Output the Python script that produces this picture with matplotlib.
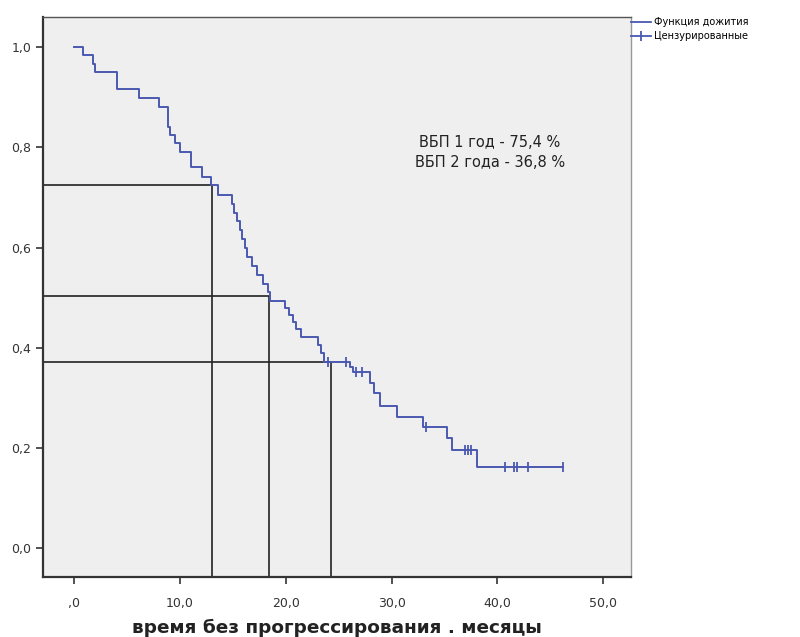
#!/usr/bin/env python3
"""
Kaplan-Meier curve: progression-free survival (SPSS style).
Usage: python3 plot.py
"""

import matplotlib
matplotlib.use("Agg")
import matplotlib.pyplot as plt
from matplotlib.lines import Line2D

# survival step function (time in months, survival after the event)
times = [0, 0.8, 1.8, 2.0, 4.0, 6.1, 8.0, 8.9, 9.1, 9.5, 10.0, 11.0, 12.1,
         12.9, 13.6, 14.9, 15.1, 15.4, 15.7, 15.9, 16.1, 16.3, 16.8, 17.3,
         17.8, 18.3, 18.5, 19.9, 20.3, 20.7, 21.0, 21.4, 23.0, 23.3, 23.6,
         26.1, 26.4, 28.0, 28.3, 28.9, 30.5, 33.0, 35.2, 35.7, 38.1, 46.2]
surv = [1.0, 0.985, 0.967, 0.951, 0.916, 0.898, 0.880, 0.841, 0.824, 0.808,
        0.791, 0.761, 0.741, 0.725, 0.705, 0.688, 0.670, 0.653, 0.635, 0.618,
        0.600, 0.581, 0.563, 0.546, 0.528, 0.511, 0.494, 0.480, 0.466, 0.452,
        0.437, 0.422, 0.405, 0.389, 0.372, 0.362, 0.352, 0.329, 0.309, 0.283,
        0.262, 0.241, 0.220, 0.196, 0.162, 0.162]

# censored observations
cens_t = [24.0, 25.7, 26.6, 27.2, 33.3, 36.9, 37.2, 37.5, 40.7, 41.6, 41.9,
          42.9, 46.2]
cens_s = [0.372, 0.372, 0.352, 0.352, 0.241, 0.196, 0.196, 0.196, 0.162,
          0.162, 0.162, 0.162, 0.162]

# reference lines (time, survival)
ref_t = [13.0, 18.4, 24.3]
ref_s = [0.725, 0.503, 0.371]

xticks = [0, 10, 20, 30, 40, 50]
xlabels = [",0", "10,0", "20,0", "30,0", "40,0", "50,0"]
yticks = [0.0, 0.2, 0.4, 0.6, 0.8, 1.0]
ylabels = ["0,0", "0,2", "0,4", "0,6", "0,8", "1,0"]

curve_color = "#4a58b0"

fig = plt.figure(figsize=(8.0, 6.37), dpi=100)
ax = fig.add_axes([0.054, 0.094, 0.735, 0.879])
ax.set_facecolor("#efefef")

xlim = (-2.93, 52.65)
ylim = (-0.058, 1.06)
ax.set_xlim(*xlim)
ax.set_ylim(*ylim)

# reference lines
ax.hlines(ref_s, xlim[0], ref_t, color="#222222", lw=1.2, zorder=2)
ax.vlines(ref_t, ylim[0], ref_s, color="#222222", lw=1.2, zorder=2)

ax.step(times, surv, where="post", color=curve_color, lw=1.4, zorder=3)
ax.plot(cens_t, cens_s, ls="none", marker="|", ms=7, mew=1.3,
        color=curve_color, zorder=4)

ax.set_xticks(xticks)
ax.set_xticklabels(xlabels)
ax.set_yticks(yticks)
ax.set_yticklabels(ylabels)
ax.tick_params(direction="out", length=5, width=1.2, colors="#333333",
               labelsize=9, labelcolor="#333333")
ax.tick_params(axis="x", pad=9)

for side in ["left", "bottom"]:
    ax.spines[side].set_color("#333333")
    ax.spines[side].set_linewidth(1.6)
ax.spines["top"].set_color("#555555")
ax.spines["top"].set_linewidth(1.0)
ax.spines["right"].set_color("#999999")
ax.spines["right"].set_linewidth(1.0)

fig.text(0.421, 0.014, "время без прогрессирования . месяцы", fontsize=13.3,
         fontweight="bold", color="#222222", ha="center", va="center")

ax.text(0.76, 0.759, "ВБП 1 год - 75,4 %\nВБП 2 года - 36,8 %",
        transform=ax.transAxes, ha="center", va="center", fontsize=10.5,
        color="#222222", linespacing=1.4)

handles = [Line2D([], [], color=curve_color, lw=1.3),
           Line2D([], [], color=curve_color, lw=1.3, marker="|", ms=7,
                  mew=1.3)]
ax.legend(handles, ["Функция дожития", "Цензурированные"],
          loc="upper left", bbox_to_anchor=(1.0, 1.0), frameon=False,
          fontsize=7, handlelength=2.0, handletextpad=0.3,
          borderaxespad=0.0, borderpad=0.0, labelspacing=0.4)

fig.savefig("out.png", dpi=100)
plt.close(fig)
